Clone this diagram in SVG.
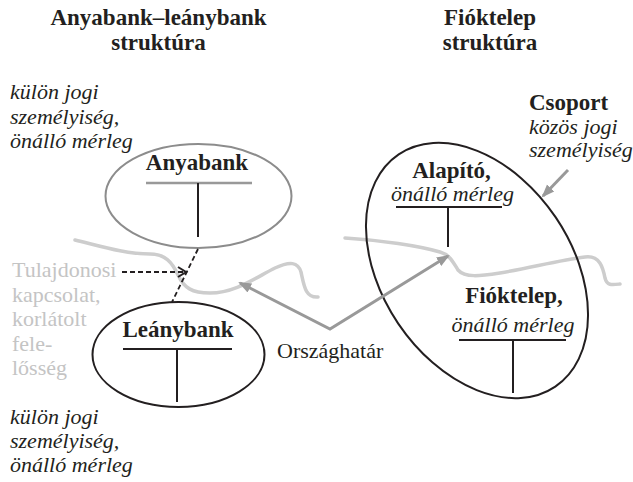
<svg xmlns="http://www.w3.org/2000/svg" width="633" height="482" viewBox="0 0 633 482" font-family="'Liberation Serif', 'DejaVu Serif', serif">
<defs>
<style>
text{fill:#231f20}
.t{font-size:23px;font-weight:bold;text-anchor:middle}
.b{font-size:23px;font-weight:bold}
.i{font-size:22px;font-style:italic}
.r{font-size:22px}
.g{fill:#c4c4c4}
.m{text-anchor:middle}
.blk{stroke:#231f20;stroke-width:2;fill:none}
.border{stroke:#cdcdcd;stroke-width:3.5;fill:none;stroke-linecap:round;stroke-linejoin:round}
.garrow{stroke:#999;stroke-width:3;fill:none}
</style>
<marker id="ah" markerUnits="userSpaceOnUse" markerWidth="14" markerHeight="12" refX="11" refY="5" orient="auto-start-reverse" viewBox="0 0 14 10">
<path d="M0,0 L13,5 L0,10 Z" fill="#999"/>
</marker>
<marker id="oh" markerUnits="userSpaceOnUse" markerWidth="12" markerHeight="12" refX="9" refY="6" orient="auto" viewBox="0 0 12 12">
<path d="M1,1 L9,6 L1,11" fill="none" stroke="#231f20" stroke-width="2"/>
</marker>
</defs>
<rect width="633" height="482" fill="#fff"/>

<g id="titles">
<text class="t" x="158.5" y="25">Anyabank–leánybank</text>
<text class="t" x="158.5" y="50">struktúra</text>
<text class="t" x="490" y="25">Fióktelep</text>
<text class="t" x="490" y="50">struktúra</text>
</g>

<g id="note-top">
<text class="i" x="10" y="99">külön jogi</text>
<text class="i" x="10" y="124">személyiség,</text>
<text class="i" x="10" y="148">önálló mérleg</text>
</g>

<g id="note-bottom">
<text class="i" x="10" y="424">külön jogi</text>
<text class="i" x="10" y="448">személyiség,</text>
<text class="i" x="10" y="472">önálló mérleg</text>
</g>

<g id="note-ownership">
<text class="r g" x="12" y="277">Tulajdonosi</text>
<text class="r g" x="12" y="302">kapcsolat,</text>
<text class="r g" x="12" y="326">korlátolt</text>
<text class="r g" x="12" y="351">fele-</text>
<text class="r g" x="12" y="375">lősség</text>
</g>

<g id="note-csoport">
<text class="b" x="529" y="110">Csoport</text>
<text class="i" x="529" y="134">közös jogi</text>
<text class="i" x="529" y="157">személyiség</text>
</g>

<g id="borders">
<path class="border" d="M75,240 C100,246 125,254 150,254 C165,254 172,262 178,275 C184,288 192,293 210,293 C235,293 255,278 275,268 C290,261 298,262 301,272 C304,285 305,298 318,297"/>
<path class="border" d="M345,238 C380,240 420,246 440,252 C450,255 453,262 458,270 C465,278 480,276 500,273 C530,268 560,260 585,257 C600,255 603,268 605,278 C607,286 612,285 620,284"/>
</g>

<g id="node-anyabank">
<ellipse cx="198.5" cy="196" rx="93" ry="52" fill="none" stroke="#8c8c8c" stroke-width="2"/>
<text class="t" x="197" y="170">Anyabank</text>
<line x1="146" y1="183" x2="252" y2="183" stroke="#999" stroke-width="2.5"/>
<line class="blk" x1="198" y1="183" x2="198" y2="237"/>
</g>

<g id="node-leanybank">
<ellipse class="blk" cx="178.5" cy="354.5" rx="86" ry="52.5"/>
<text class="t" x="178" y="337">Leánybank</text>
<line class="blk" x1="123" y1="349" x2="232" y2="349"/>
<line class="blk" x1="177" y1="349" x2="177" y2="402"/>
</g>

<g id="node-csoport">
<ellipse class="blk" cx="477" cy="270.5" rx="95" ry="140" transform="rotate(-34 477 270.5)"/>
</g>

<g id="node-alapito">
<text class="t" x="451.5" y="178">Alapító,</text>
<text class="i m" x="452.5" y="201">önálló mérleg</text>
<line class="blk" x1="396" y1="207" x2="502" y2="207"/>
<line class="blk" x1="448" y1="207" x2="448" y2="247"/>
</g>

<g id="node-fioktelep">
<text class="t" x="514" y="303">Fióktelep,</text>
<text class="i m" x="513" y="332">önálló mérleg</text>
<line class="blk" x1="459" y1="340" x2="566" y2="340"/>
<line class="blk" x1="513" y1="340" x2="513" y2="393"/>
</g>

<g id="label-orszaghatar">
<text class="r" x="277" y="358">Országhatár</text>
</g>

<g id="connectors">
<line x1="198" y1="249" x2="172" y2="302" stroke="#231f20" stroke-width="1.8" stroke-dasharray="5 3"/>
<line x1="122" y1="272" x2="186" y2="272" stroke="#231f20" stroke-width="2" stroke-dasharray="5 3" marker-end="url(#oh)"/>
<path class="garrow" d="M240,283 L330,329 L448,256" marker-start="url(#ah)" marker-end="url(#ah)"/>
<line class="garrow" x1="568" y1="170" x2="543" y2="196" marker-end="url(#ah)"/>
</g>
</svg>
